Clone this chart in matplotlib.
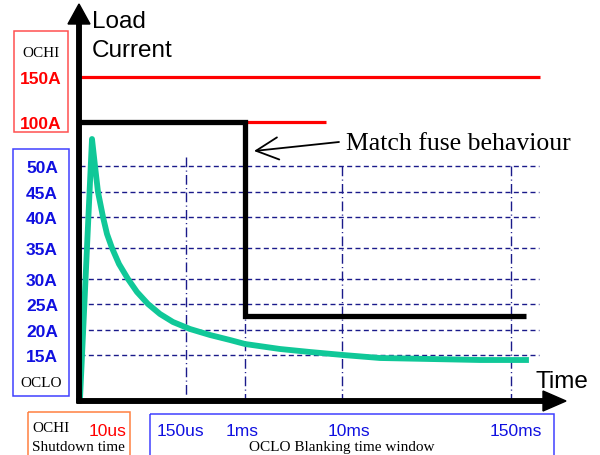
import matplotlib
matplotlib.use('Agg')
import matplotlib.pyplot as plt
import matplotlib.patches as mpatches

SANS = 'Liberation Sans'
SERIF = 'Liberation Serif'

# Levels (labels and their row on the drawing)
ochi_labels = ['150A', '100A']
ochi_y = [78, 123]
oclo_labels = ['50A', '45A', '40A', '35A', '30A', '25A', '20A', '15A']
oclo_y = [167, 193, 218, 249, 280, 305, 331, 356]

# Time marks along the axis
time_labels = ['150us', '1ms', '10ms', '150ms']
time_x = [186, 245, 342, 511]
time_top = [158, 167, 167, 167]

# Fuse-like limit (step) and the load current curve
step_x = [80, 245, 245, 526]
step_y = [123, 123, 317, 317]
load_x = [80, 92, 95, 98, 103, 107, 112, 119, 128, 137, 148, 160, 173, 190,
          210, 230, 245, 280, 310, 343, 380, 430, 480, 526]
load_y = [400, 140, 167, 193, 218, 235, 249, 265, 280, 293, 305, 315, 323, 330,
          336, 341, 345, 350, 353, 356, 359, 360, 361, 361]

fig = plt.figure(figsize=(6, 4.56), dpi=100)
ax = fig.add_axes([0, 0, 1, 1])
ax.set_xlim(0, 600)
ax.set_ylim(456, 0)
ax.axis('off')

grid_c = '#1a1a8a'

# Horizontal dashed levels
for y in oclo_y:
    ax.plot([80, 539], [y, y], color=grid_c, lw=1.0, ls=(0, (3.6, 2.4)), zorder=1)

# Vertical dash-dot time marks
for x, top in zip(time_x, time_top):
    ax.plot([x, x], [top, 400], color=grid_c, lw=1.0, ls=(0, (7, 2.4, 0.8, 2.4)), zorder=1)

# OCHI levels (red)
ax.plot([79, 540], [ochi_y[0], ochi_y[0]], color='#ff0000', lw=2.3, solid_capstyle='butt', zorder=2)
ax.plot([79, 326], [ochi_y[1], ochi_y[1]], color='#ff0000', lw=2.3, solid_capstyle='butt', zorder=2)

# Step (fuse behaviour)
ax.plot(step_x, step_y, color='black', lw=3.8, solid_joinstyle='miter', solid_capstyle='butt', zorder=3)

# Load current
ax.plot(load_x, load_y, color='#10c898', lw=4.2, solid_joinstyle='round', zorder=4)

# Axes arrows
ax.add_patch(mpatches.FancyArrow(79, 404, 0, -399, width=4.5, head_width=22, head_length=20,
                                 length_includes_head=True, color='black', zorder=5))
ax.add_patch(mpatches.FancyArrow(77, 402, 489, 0, width=4.5, head_width=20, head_length=23,
                                 length_includes_head=True, color='black', zorder=5))

ax.text(92, 28, 'Load', fontsize=17.5, family=SANS, va='baseline')
ax.text(92, 57, 'Current', fontsize=17.5, family=SANS, va='baseline')
ax.text(536, 388, 'Time', fontsize=17.5, family=SANS, va='baseline')

# Annotation
ax.annotate('', xy=(254, 152), xytext=(339, 143),
            arrowprops=dict(arrowstyle='->,head_length=1.6,head_width=0.8', color='black',
                            lw=1.3, shrinkA=0, shrinkB=0, mutation_scale=10))
ax.text(346, 150, 'Match fuse behaviour', fontsize=18.5, family=SERIF, va='baseline')

# Left boxes
ax.add_patch(mpatches.Rectangle((14, 32), 54, 101, fill=False, edgecolor='#ff5050', lw=1.1))
ax.text(41, 57, 'OCHI', fontsize=11, family=SERIF, ha='center', va='baseline')
for lab, y in zip(ochi_labels, ochi_y):
    ax.text(41, y, lab, fontsize=12.5, family=SANS, weight='bold', color='#ff0000',
            ha='center', va='center_baseline')

ax.add_patch(mpatches.Rectangle((13, 150), 56, 247, fill=False, edgecolor='#4040ff', lw=1.1))
for lab, y in zip(oclo_labels, oclo_y):
    ax.text(42, y, lab, fontsize=12.5, family=SANS, weight='bold', color='#1010e0',
            ha='center', va='center_baseline')
ax.text(41, 387, 'OCLO', fontsize=11, family=SERIF, ha='center', va='baseline')

# Bottom boxes
ax.add_patch(mpatches.Rectangle((28, 413), 102, 50, fill=False, edgecolor='#ff8040', lw=1.1, clip_on=False))
ax.text(32, 432, 'OCHI', fontsize=11, family=SERIF, va='baseline')
ax.text(126, 436, '10us', fontsize=12.5, family=SANS, color='#ff0000', ha='right', va='baseline')
ax.text(32, 451, 'Shutdown time', fontsize=11, family=SERIF, va='baseline')

ax.add_patch(mpatches.Rectangle((150, 415), 404, 50, fill=False, edgecolor='#4040ff', lw=1.1, clip_on=False))
label_x = [180, 242, 349, 516]
for lab, x in zip(time_labels, label_x):
    ax.text(x, 436, lab, fontsize=12.5, family=SANS, color='#1010e0', ha='center', va='baseline')
ax.text(342, 451, 'OCLO Blanking time window', fontsize=11, family=SERIF, ha='center', va='baseline')

fig.savefig('out.png', dpi=100)
